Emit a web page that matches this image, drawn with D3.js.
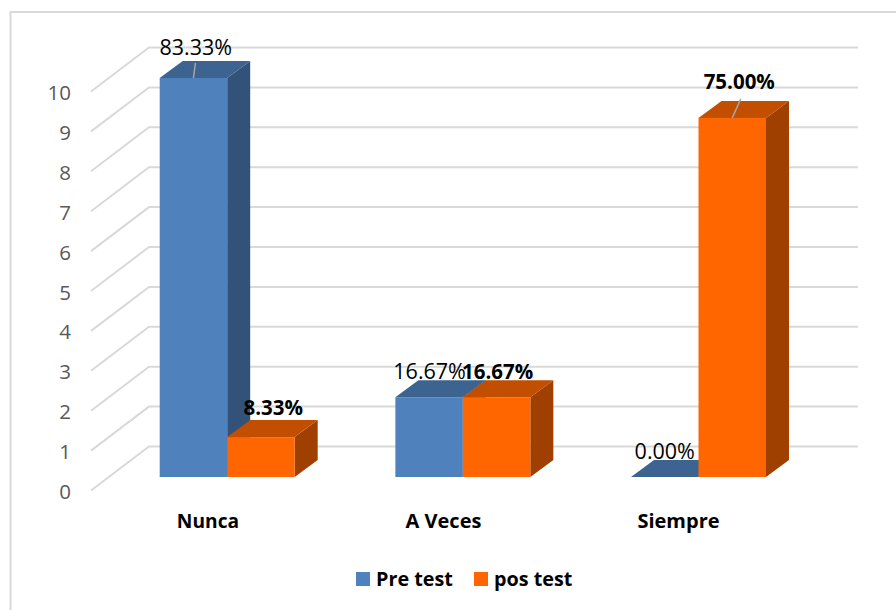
<!DOCTYPE html>
<html>
<head>
<meta charset="utf-8">
<script src="https://cdn.jsdelivr.net/npm/d3@7"></script>
<style>
html, body { margin: 0; padding: 0; background: #fff; overflow: hidden; }
svg { display: block; }
text { font-family: "Open Sans", "Noto Sans", sans-serif; }
</style>
</head>
<body>
<svg id="chart" width="896" height="610"></svg>
<script>
const categories = ["Nunca", "A Veces", "Siempre"];
const seriesNames = ["Pre test", "pos test"];
const preTest = [10, 2, 0];
const posTest = [1, 2, 9];
const preLabels = ["83.33%", "16.67%", "0.00%"];
const posLabels = ["8.33%", "16.67%", "75.00%"];
const yTicks = [0, 1, 2, 3, 4, 5, 6, 7, 8, 9, 10];

const svg = d3.select("#chart");

// frame, cut off by the picture on the right and at the bottom
svg.append("path")
    .attr("fill", "none")
    .attr("stroke", "#d9d9d9")
    .attr("stroke-width", 2)
    .attr("d", "M10.5,610V12H896");

const y = d3.scaleLinear().domain([0, 10]).range([477, 78]);
const x0 = d3.scaleBand().domain(categories).range([159.7, 766]).paddingInner(0.4272);
const x1 = d3.scaleBand().domain(seriesNames).range([0, x0.bandwidth()]);

// depth of the 3d bars and of the wall
const barDx = 23, barDy = -17;
const wallDx = 58, wallDy = -44;
const wallLeft = 91, wallRight = 858;

const colors = {
    "Pre test": { front: "#4f81bd", top: "#3d6391", side: "#335279" },
    "pos test": { front: "#ff6600", top: "#c24e00", side: "#a04000" }
};

// wall gridlines
const wallY = d => y(d) + 13.5;
yTicks.forEach(t => {
    svg.append("path")
        .attr("fill", "none")
        .attr("stroke", "#d9d9d9")
        .attr("stroke-width", 2)
        .attr("d", d3.line()([
            [wallLeft, wallY(t)],
            [wallLeft + wallDx, wallY(t) + wallDy],
            [wallRight, wallY(t) + wallDy]
        ]));
});

// y axis labels
const yAxis = svg.append("g")
    .attr("transform", `translate(${wallLeft},1.5)`)
    .call(d3.axisLeft(d3.scaleLinear().domain([0, 10]).range([wallY(0), wallY(10)]))
        .tickValues(yTicks).tickSize(0).tickPadding(20).tickFormat(d3.format("d")));
yAxis.select(".domain").remove();
yAxis.selectAll("text")
    .attr("fill", "#595959")
    .style("font-size", "20.5px")
    .style("font-family", "'Open Sans', sans-serif");

function drawBar(name, cat, value) {
    const c = colors[name];
    const l = x0(cat) + x1(name);
    const r = l + x1.bandwidth();
    const t = y(value);
    const b = y(0);
    const g = svg.append("g");
    const poly = d3.line();
    g.append("path").attr("fill", c.side)
        .attr("d", poly([[r, t], [r + barDx, t + barDy], [r + barDx, b + barDy], [r, b]]) + "Z");
    g.append("path").attr("fill", c.top)
        .attr("d", poly([[l, t], [l + barDx, t + barDy], [r + barDx, t + barDy], [r, t]]) + "Z");
    if (value > 0) {
        g.append("rect").attr("x", l).attr("y", t)
            .attr("width", r - l).attr("height", b - t)
            .attr("fill", c.front);
    }
}

// back-to-front so the nearer bar hides the side of the one before it
categories.forEach((cat, i) => {
    drawBar("Pre test", cat, preTest[i]);
    drawBar("pos test", cat, posTest[i]);
});

// leader lines for the two tall bars
function leader(name, cat, value, dx, top) {
    const cx = x0(cat) + x1(name) + x1.bandwidth() / 2;
    svg.append("line")
        .attr("x1", cx).attr("y1", y(value))
        .attr("x2", cx + dx).attr("y2", y(value) - top)
        .attr("stroke", "#a6a6a6").attr("stroke-width", 1.5);
}
leader("Pre test", "Nunca", preTest[0], 2, 15);
leader("pos test", "Siempre", posTest[2], 8.5, 19);

// data labels
const labelOffset = {
    pre: [[2.25, -23], [0.5, -18], [0, -18]],
    pos: [[12.3, -22], [1, -18], [7, -29]]
};
categories.forEach((cat, i) => {
    const preCx = x0(cat) + x1("Pre test") + x1.bandwidth() / 2;
    const posCx = x0(cat) + x1("pos test") + x1.bandwidth() / 2;
    svg.append("text")
        .attr("x", preCx + labelOffset.pre[i][0])
        .attr("y", y(preTest[i]) + labelOffset.pre[i][1])
        .attr("text-anchor", "middle")
        .attr("fill", "#000")
        .style("font-size", "21.5px")
        .text(preLabels[i]);
    svg.append("text")
        .attr("x", posCx + labelOffset.pos[i][0])
        .attr("y", y(posTest[i]) + labelOffset.pos[i][1])
        .attr("text-anchor", "middle")
        .attr("fill", "#000")
        .style("font-size", "20.5px")
        .style("font-weight", "bold")
        .text(posLabels[i]);
});

// category labels
const catX = [208, 443.5, 678.5];
const catSize = [19.2, 20, 20];
categories.forEach((cat, i) => {
    svg.append("text")
        .attr("x", catX[i]).attr("y", 528)
        .attr("text-anchor", "middle")
        .attr("fill", "#000")
        .style("font-size", catSize[i] + "px")
        .style("font-weight", "bold")
        .text(cat);
});

// legend
const legendX = [356, 474];
seriesNames.forEach((name, i) => {
    svg.append("rect")
        .attr("x", legendX[i]).attr("y", 572)
        .attr("width", 14).attr("height", 14)
        .attr("fill", colors[name].front);
    svg.append("text")
        .attr("x", legendX[i] + 20).attr("y", 586)
        .attr("fill", "#000")
        .style("font-size", "19.8px")
        .style("font-weight", "bold")
        .text(name);
});
</script>
</body>
</html>
